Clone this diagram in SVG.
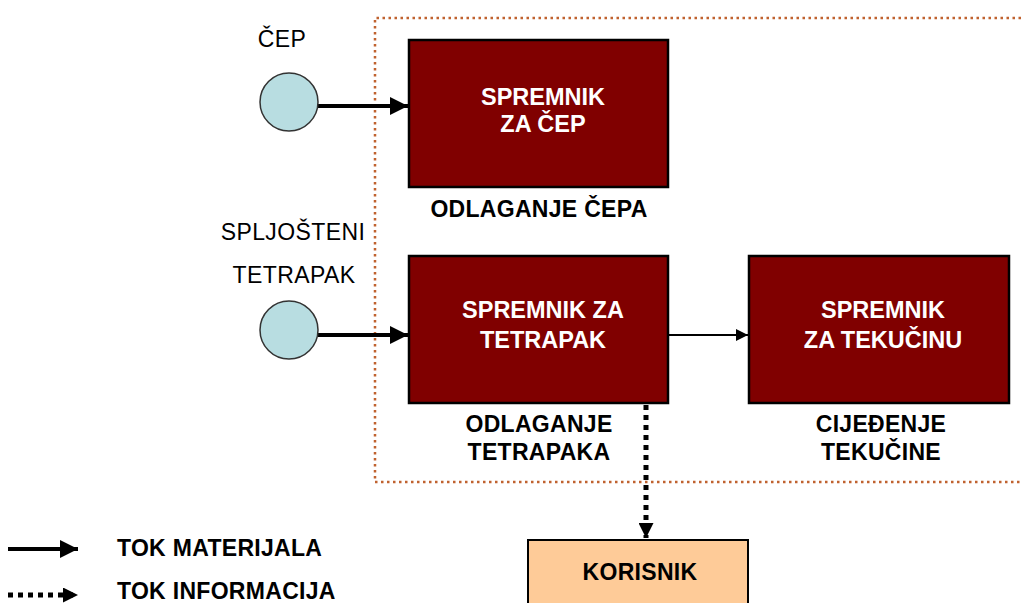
<svg xmlns="http://www.w3.org/2000/svg" width="1021" height="603" viewBox="0 0 1021 603">
<style>
text{font-family:"Liberation Sans",Arial,sans-serif;text-anchor:middle}
.box{fill:#800000;stroke:#000;stroke-width:2.5}
.bt{fill:#fff;font-weight:bold;font-size:23.5px}
.lb{fill:#000;font-weight:bold;font-size:23px;letter-spacing:0.3px}
.nt{fill:#000;font-size:23px;letter-spacing:0.4px}
.circ{fill:#b8dde1;stroke:#333;stroke-width:1.5}
.thick{stroke:#000;stroke-width:4;fill:none}
.thin{stroke:#000;stroke-width:2;fill:none}
.dot{stroke:#000;stroke-width:5;fill:none;stroke-dasharray:5 5}
</style>
<defs>
<marker id="ah" viewBox="0 0 10 10" refX="10" refY="5" markerWidth="4.5" markerHeight="4.5" markerUnits="strokeWidth" orient="auto"><path d="M0,0 L10,5 L0,10 z" fill="#000"/></marker>
<marker id="ahs" viewBox="0 0 10 10" refX="10" refY="5" markerWidth="6" markerHeight="6" markerUnits="strokeWidth" orient="auto"><path d="M0,0 L10,5 L0,10 z" fill="#000"/></marker>
<marker id="ahd" viewBox="0 0 10 10" refX="10" refY="5" markerWidth="3" markerHeight="3" markerUnits="strokeWidth" orient="auto"><path d="M0,0 L10,5 L0,10 z" fill="#000"/></marker>
</defs>
<rect width="1021" height="603" fill="#fff"/>
<path d="M1021,18 H375 V482 H1021" fill="none" stroke="#c0622f" stroke-width="2.5" stroke-dasharray="2.5 3.5"/>
<g id="connectors">
<line class="thick" x1="318" y1="106" x2="408" y2="106" marker-end="url(#ah)"/>
<line class="thick" x1="318" y1="335" x2="408" y2="335" marker-end="url(#ah)"/>
<line class="thin" x1="668" y1="335" x2="748" y2="335" marker-end="url(#ahs)"/>
<line class="dot" x1="646" y1="405" x2="646" y2="538" marker-end="url(#ahd)"/>
</g>
<g id="cep-source">
<circle class="circ" cx="289" cy="102" r="29"/>
<text class="nt" x="282" y="47">ČEP</text>
</g>
<g id="tetrapak-source">
<circle class="circ" cx="289" cy="330" r="29"/>
<text class="nt" x="293" y="240">SPLJOŠTENI</text>
<text class="nt" x="294" y="283">TETRAPAK</text>
</g>
<g id="spremnik-cep">
<rect class="box" x="409" y="40" width="259" height="147"/>
<text class="bt" x="543" y="105">SPREMNIK</text>
<text class="bt" x="543" y="132">ZA ČEP</text>
<text class="lb" x="539" y="217">ODLAGANJE ČEPA</text>
</g>
<g id="spremnik-tetrapak">
<rect class="box" x="409" y="256" width="259" height="147"/>
<text class="bt" x="543" y="318">SPREMNIK ZA</text>
<text class="bt" x="543" y="348">TETRAPAK</text>
<text class="lb" x="539" y="432">ODLAGANJE</text>
<text class="lb" x="539" y="460">TETRAPAKA</text>
</g>
<g id="spremnik-tekucina">
<rect class="box" x="749" y="256" width="260" height="147"/>
<text class="bt" x="883" y="318">SPREMNIK</text>
<text class="bt" x="883" y="348">ZA TEKUČINU</text>
<text class="lb" x="881" y="432">CIJEĐENJE</text>
<text class="lb" x="881" y="460">TEKUČINE</text>
</g>
<g id="korisnik">
<rect x="528" y="540" width="220" height="70" fill="#fecb98" stroke="#000" stroke-width="2"/>
<text class="lb" x="640" y="580">KORISNIK</text>
</g>
<g id="legend">
<line class="thick" x1="8" y1="549" x2="78" y2="549" marker-end="url(#ah)"/>
<line class="dot" x1="8" y1="595" x2="78" y2="595" marker-end="url(#ahd)"/>
<text class="lb" x="117" y="556" style="text-anchor:start">TOK MATERIJALA</text>
<text class="lb" x="117" y="599" style="text-anchor:start">TOK INFORMACIJA</text>
</g>
</svg>
